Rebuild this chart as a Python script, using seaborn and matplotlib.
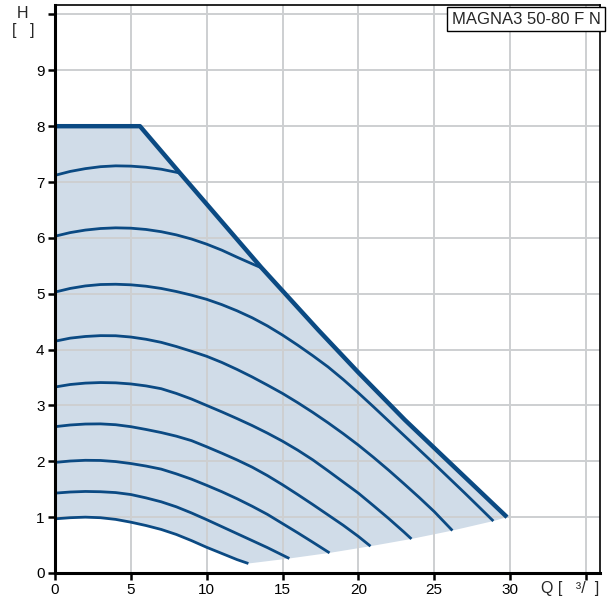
"""Pump curve chart: MAGNA3 50-80 F N, head vs flow."""

import pandas as pd
import matplotlib
matplotlib.use('Agg')
import matplotlib.pyplot as plt
import seaborn as sns

sns.set_style('white')
plt.rcParams['font.family'] = ['Liberation Sans', 'DejaVu Sans']

LINE = '#0b4a83'
FILL = '#d0dce8'
GRID = '#cdcfd1'

# max curve (upper envelope)
q_max = [0, 5.6, 8.24, 13.6, 17.36, 20, 23.07, 25, 29.8]
h_max = [8.0, 8.0, 7.16, 5.47, 4.35, 3.59, 2.74, 2.24, 1.0]

# speed curves, top to bottom
q_c1 = [0, 1, 2, 3, 4, 5, 6, 7, 8, 8.24]
h_c1 = [7.12, 7.19, 7.24, 7.275, 7.29, 7.285, 7.265, 7.23, 7.175, 7.16]

q_c2 = [0, 1, 2, 3, 4, 5, 6, 7, 8, 9, 10, 11, 12, 13, 13.6]
h_c2 = [6.03, 6.095, 6.14, 6.168, 6.18, 6.174, 6.151, 6.111, 6.054, 5.98,
        5.888, 5.78, 5.655, 5.535, 5.465]

q_c3 = [0, 1, 2, 3, 4, 5, 6, 7, 8, 9, 10, 11, 12, 13, 14, 15, 16, 17, 18,
        19, 20, 21, 22, 23, 24, 25, 26, 27, 28, 28.9]
h_c3 = [5.03, 5.095, 5.14, 5.165, 5.17, 5.16, 5.135, 5.095, 5.04, 4.975,
        4.9, 4.805, 4.695, 4.57, 4.425, 4.26, 4.08, 3.89, 3.69, 3.465,
        3.225, 2.975, 2.72, 2.465, 2.21, 1.955, 1.695, 1.435, 1.17, 0.93]

q_c4 = [0, 1, 2, 3, 4, 5, 6, 7, 8, 9, 10, 11, 12, 13, 14, 15, 16, 17, 18,
        19, 20, 21, 22, 23, 24, 25, 26.2]
h_c4 = [4.15, 4.205, 4.235, 4.25, 4.248, 4.225, 4.185, 4.13, 4.055, 3.97,
        3.88, 3.77, 3.645, 3.51, 3.365, 3.215, 3.05, 2.875, 2.69, 2.495,
        2.29, 2.07, 1.84, 1.6, 1.355, 1.1, 0.76]

q_c5 = [0, 1, 2, 3, 4, 5, 6, 7, 8, 9, 10, 11, 12, 13, 14, 15, 16, 17, 18,
        19, 20, 21, 22, 23, 23.5]
h_c5 = [3.33, 3.375, 3.4, 3.41, 3.405, 3.385, 3.35, 3.3, 3.215, 3.115,
        3.0, 2.885, 2.765, 2.64, 2.505, 2.36, 2.2, 2.025, 1.83, 1.63,
        1.43, 1.205, 0.975, 0.735, 0.61]

q_c6 = [0, 1, 2, 3, 4, 5, 6, 7, 8, 9, 10, 11, 12, 13, 14, 15, 16, 17, 18,
        19, 20, 20.8]
h_c6 = [2.62, 2.65, 2.667, 2.67, 2.655, 2.62, 2.57, 2.515, 2.45, 2.37,
        2.26, 2.145, 2.025, 1.895, 1.745, 1.58, 1.405, 1.225, 1.04, 0.855,
        0.655, 0.48]

q_c7 = [0, 1, 2, 3, 4, 5, 6, 7, 8, 9, 10, 11, 12, 13, 14, 15, 16, 17, 18.1]
h_c7 = [1.98, 2.005, 2.018, 2.015, 1.995, 1.96, 1.915, 1.86, 1.775, 1.68,
        1.57, 1.455, 1.33, 1.195, 1.05, 0.885, 0.72, 0.55, 0.36]

q_c8 = [0, 1, 2, 3, 4, 5, 6, 7, 8, 9, 10, 11, 12, 13, 14, 15.45]
h_c8 = [1.43, 1.45, 1.46, 1.455, 1.44, 1.405, 1.345, 1.275, 1.185, 1.075,
        0.955, 0.83, 0.705, 0.58, 0.455, 0.26]

q_c9 = [0, 1, 2, 3, 4, 5, 6, 7, 8, 9, 10, 11, 12, 12.75]
h_c9 = [0.97, 0.99, 1.0, 0.99, 0.96, 0.91, 0.85, 0.78, 0.69, 0.58, 0.46,
        0.35, 0.24, 0.17]

curves = [(q_c1, h_c1), (q_c2, h_c2), (q_c3, h_c3), (q_c4, h_c4),
          (q_c5, h_c5), (q_c6, h_c6), (q_c7, h_c7), (q_c8, h_c8),
          (q_c9, h_c9)]

x_ticks = [0, 5, 10, 15, 20, 25, 30, 35]
x_labels = ['0', '5', '10', '15', '20', '25', '30', '']
y_ticks = list(range(0, 11))
y_labels = [str(v) for v in range(0, 10)] + ['']

df = pd.concat([pd.DataFrame({'Q': q, 'H': h, 'curve': i})
                for i, (q, h) in enumerate(curves)])

fig = plt.figure(figsize=(6.12, 6.02), dpi=100)
ax = fig.add_axes([55 / 612, 29 / 602, 545 / 612, 568 / 602])

# shaded operating area: max curve, then lower ends of speed curves,
# then back along the lowest curve
poly_q = list(q_max) + [c[0][-1] for c in curves[2:]] + q_c9[::-1]
poly_h = list(h_max) + [c[1][-1] for c in curves[2:]] + h_c9[::-1]
ax.fill(poly_q, poly_h, color=FILL, lw=0, zorder=0.3)

sns.lineplot(data=df, x='Q', y='H', units='curve', estimator=None,
             sort=False, color=LINE, lw=2, ax=ax,
             solid_capstyle='butt', solid_joinstyle='round')
sns.lineplot(x=q_max, y=h_max, sort=False, color=LINE, lw=3.2, ax=ax,
             solid_capstyle='butt')

ax.set_xlim(0, 35.93)
ax.set_ylim(0, 10.17)
ax.set_xticks(x_ticks)
ax.set_xticklabels(x_labels)
ax.set_yticks(y_ticks)
ax.set_yticklabels(y_labels)
ax.set_xlabel('')
ax.set_ylabel('')
ax.set_axisbelow(True)
ax.grid(True, color=GRID, lw=1.4)
ax.tick_params(direction='out', length=5, width=1.8, labelsize=11,
               pad=2.5, colors='black', left=True, bottom=True)
for side in ['left', 'bottom']:
    ax.spines[side].set_linewidth(2.2)
    ax.spines[side].set_color('black')
for side in ['top', 'right']:
    ax.spines[side].set_linewidth(1.2)
    ax.spines[side].set_color('black')

fig.text(22 / 612, 1 - 14 / 602, 'H', ha='center', va='center',
         fontsize=11.5)
fig.text(23 / 612, 1 - 31 / 602, '[   ]', ha='center', va='center',
         fontsize=11.5)
fig.text(541 / 612, 1 - 588 / 602, 'Q [   \u00b3/  ]', ha='left',
         va='center', fontsize=11.5)
fig.text(526 / 612, 1 - 19 / 602, 'MAGNA3 50-80 F N', ha='center',
         va='center', fontsize=12,
         bbox=dict(boxstyle='square,pad=0.25', fc='white', ec='black',
                   lw=1))

plt.savefig('out.png', dpi=100)
